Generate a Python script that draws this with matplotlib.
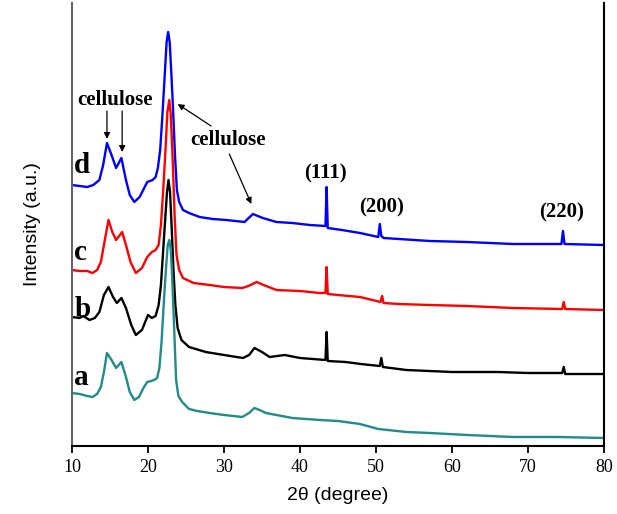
import matplotlib.pyplot as plt

# odczyty z wykresu: 2theta i intensywnosc (j.u.)
x_a = [10, 11, 12, 12.7, 13.3, 13.8, 14.2, 14.6, 15.2, 15.8, 16.5, 17.1, 17.6, 18.2, 18.8, 19.4,
       19.9, 20.4, 20.8, 21.2, 21.5, 21.8, 22.1, 22.4, 22.6, 22.8, 23.0, 23.2, 23.45, 23.7, 24.0,
       24.5, 25.4, 26.5, 28.1, 30, 32.4, 33.3, 34.0, 34.7, 35.5, 36.9, 39, 42.6, 45, 47.9, 50.3,
       54, 57.1, 62, 68, 74, 80]
y_a = [53, 52, 50, 49, 52, 59, 74, 93, 86, 78, 84, 69, 54, 46, 49, 58, 64, 65, 66, 68, 78, 106,
       146, 181, 201, 206, 196, 166, 116, 66, 50, 44, 37, 35, 33, 31, 29, 33, 38, 36, 33, 31, 28,
       26, 25, 22, 17, 14, 13, 11, 9, 9, 8]

x_b = [10, 11, 11.5, 12.3, 13.0, 13.6, 14.2, 14.8, 15.4, 15.9, 16.5, 17.1, 17.8, 18.4, 19.2,
       20.0, 20.5, 21.0, 21.4, 21.7, 22.0, 22.3, 22.5, 22.7, 22.9, 23.1, 23.35, 23.6, 23.9, 24.4,
       25.4, 27.6, 30, 32.5, 33.3, 34.0, 35, 36, 38, 40, 43.35, 43.5, 43.65, 46, 48, 50.5, 50.7,
       50.9, 54, 60, 66, 70, 74.5, 74.7, 74.9, 80]
y_b = [129, 128, 130, 126, 128, 134, 151, 159, 149, 143, 148, 138, 121, 111, 116, 131, 128,
       130, 141, 161, 196, 231, 254, 266, 254, 221, 176, 141, 118, 106, 99, 94, 91, 88, 91, 98,
       94, 89, 91, 88, 86, 114, 85, 84, 82, 80, 88, 79, 76, 74, 74, 73, 73, 79, 72, 72]

x_c = [10, 11, 12, 12.7, 13.3, 13.8, 14.2, 14.8, 15.3, 15.8, 16.6, 17.1, 17.7, 18.4, 19.2,
       19.9, 20.5, 21.0, 21.4, 21.7, 22.0, 22.3, 22.55, 22.8, 23.0, 23.25, 23.5, 23.75, 24.1,
       24.6, 26, 28.1, 30, 32.4, 33.2, 34.3, 35.2, 36.9, 40, 42.6, 43.35, 43.5, 43.65, 45, 47.9,
       50.6, 50.8, 51.0, 53, 57.1, 62, 68, 74.5, 74.7, 74.9, 80]
y_c = [176, 175, 175, 173, 176, 184, 201, 226, 214, 206, 214, 201, 184, 173, 178, 189, 194,
       196, 201, 221, 256, 296, 334, 346, 331, 286, 231, 191, 176, 168, 163, 161, 159, 158, 160,
       164, 161, 156, 155, 153, 153, 179, 152, 151, 149, 144, 150, 143, 142, 141, 140, 138, 137,
       144, 137, 136]

x_d = [10, 11, 12, 12.8, 13.6, 14.1, 14.6, 15.2, 15.8, 16.5, 17.1, 17.6, 18.2, 18.9, 19.9, 20.6,
       21.0, 21.3, 21.6, 21.9, 22.2, 22.45, 22.65, 22.85, 23.05, 23.3, 23.55, 23.8, 24.1, 24.6,
       25.4, 26.8, 28.5, 30.3, 32.7, 33.8, 35.1, 36.9, 39, 41.3, 43.35, 43.5, 43.65, 45.5, 47.9,
       50.3, 50.5, 50.7, 51.0, 53, 57.1, 62, 68, 74.4, 74.6, 74.8, 80]
y_d = [261, 260, 259, 261, 266, 281, 303, 291, 278, 288, 266, 251, 244, 249, 264, 266, 269,
       278, 296, 331, 371, 404, 414, 404, 376, 336, 291, 256, 244, 236, 233, 229, 227, 226, 224,
       232, 228, 224, 223, 221, 220, 259, 218, 216, 213, 209, 222, 210, 208, 207, 205, 204, 202,
       202, 215, 202, 201]

etykiety = ['a', 'b', 'c', 'd']
kolory = ['#1f8b8b', 'black', '#ff0000', '#0000ff']
tiki_x = [10, 20, 30, 40, 50, 60, 70, 80]

fig = plt.figure(figsize=(6.17, 5.14), dpi=100)
ax = fig.add_axes([72 / 617, 68 / 514, 532 / 617, 443 / 514])

serie = [(x_a, y_a), (x_b, y_b), (x_c, y_c), (x_d, y_d)]
# rysujemy od gory (d) do dolu (a), zeby nizsze krzywe lezaly na wierzchu
for (xs, ys), kolor in reversed(list(zip(serie, kolory))):
    ax.plot(xs, ys, color=kolor, linewidth=1.7)

# litery przy krzywych
for lit, yy in zip(etykiety, [61, 129, 186, 273]):
    ax.text(10.3, yy, lit, fontsize=21, fontweight='bold', family='Liberation Serif',
            ha='left', va='baseline')

opis = dict(fontsize=15, fontweight='bold', family='Liberation Serif', ha='center', va='center')
strzalka = dict(arrowstyle='-|>', color='black', lw=0.9, mutation_scale=9, shrinkA=0, shrinkB=0)

ax.text(15.7, 346, 'cellulose', **opis)
ax.annotate('', xy=(14.6, 307), xytext=(14.6, 335), arrowprops=strzalka)
ax.annotate('', xy=(16.6, 294), xytext=(16.6, 335), arrowprops=strzalka)

ax.text(30.5, 306, 'cellulose', **opis)
ax.annotate('', xy=(23.9, 342), xytext=(28.3, 320), arrowprops=strzalka)
ax.annotate('', xy=(33.6, 242), xytext=(30.7, 292), arrowprops=strzalka)

ax.text(43.4, 273, '(111)', **opis)
ax.text(50.7, 239, '(200)', **opis)
ax.text(74.4, 234, '(220)', **opis)

ax.set_xlim(10, 80)
ax.set_ylim(0, 443)
ax.set_xticks(tiki_x)
ax.set_yticks([])
for t in ax.get_xticklabels():
    t.set_family('Liberation Serif')
    t.set_fontsize(13)
ax.tick_params(axis='x', direction='out', length=5, width=1.3, pad=4)

ax.spines['top'].set_visible(False)
ax.spines['left'].set_color('#666666')
ax.spines['left'].set_linewidth(1.5)
ax.spines['right'].set_linewidth(1.5)
ax.spines['bottom'].set_linewidth(1.5)

ax.set_xlabel('2θ (degree)', fontsize=14, family='Liberation Sans', labelpad=8)
ax.set_ylabel('Intensity (a.u.)', fontsize=14, family='Liberation Sans', labelpad=22)

fig.savefig('out.png', dpi=100)
